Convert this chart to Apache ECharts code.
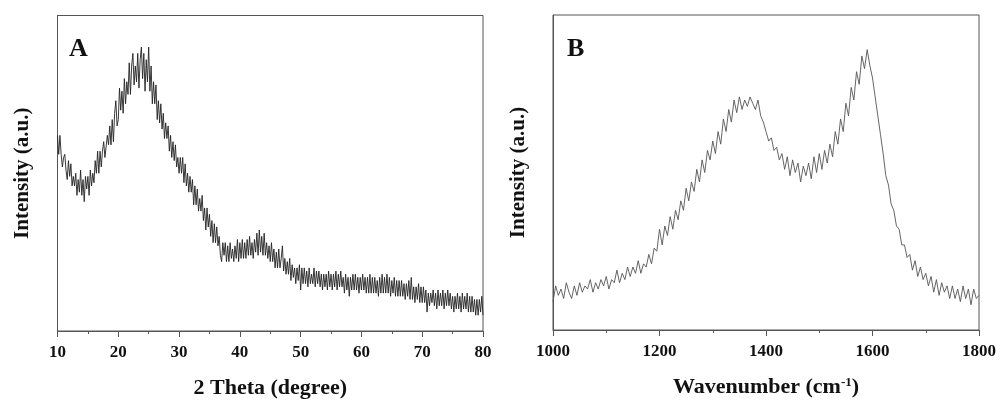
<!DOCTYPE html>
<html><head><meta charset="utf-8">
<script src="https://cdn.jsdelivr.net/npm/echarts@6/dist/echarts.min.js"></script>
<style>html,body{margin:0;padding:0;background:#fff}#c{width:1000px;height:405px}</style>
</head><body><div id="c"></div>
<script>
// Panel A: XRD, 2θ from 10 to 80, step 0.2
const xrdStart = 10, xrdStep = 0.2;
const xrdIntensity = [
62,56,62,56,52, 55,56,51,48,54, 49,53,46,49,46, 50,43,48,44,51, 43,48,41,49,45,
49,43,51,46,50, 47,54,50,57,50, 57,52,57,60,55, 55,62,59,65,59, 67,60,69,73,65,
67,77,70,76,69, 80,72,79,75,85, 75,84,88,78,84, 79,88,77,86,90, 80,88,76,86,79,
90,76,84,72,79, 72,78,67,73,66, 72,64,69,61,66, 61,65,57,62,55, 60,54,59,52,55,
50,55,50,55,47, 53,46,50,44,49, 44,48,40,46,40, 45,38,42,38,43, 35,39,32,39,33,
37,30,35,28,34, 28,33,27,30,24, 22,28,24,28,22, 27,22,28,23,26, 22,27,23,29,22,
28,23,29,23,28, 23,29,24,30,24, 28,23,29,25,31, 24,32,25,30,24, 31,24,28,23,27,
22,28,22,26,20, 25,20,26,20,23, 27,19,23,18,22, 18,23,16,21,17, 20,15,20,16,21,
13,20,15,20,15, 19,14,20,15,18, 15,20,14,19,15, 19,14,18,13,18, 14,18,13,19,14,
18,13,18,14,19, 13,18,14,19,14, 17,12,18,13,17, 11,17,13,18,13, 18,13,17,12,17,
13,18,13,17,12, 17,12,18,12,17, 12,17,12,16,11, 17,12,18,12,17, 12,18,12,17,11,
16,12,17,11,16, 11,16,11,16,11, 15,10,15,11,16, 10,17,10,14,9, 14,10,15,9,14,
9,14,9,13,6, 12,8,12,9,13, 8,12,7,13,8, 12,8,13,7,12, 8,13,8,12,7,
11,6,11,7,12, 7,11,6,12,7, 11,7,12,6,11, 6,11,6,10,5, 10,5,10,6,11,
5
];
// Panel B: Raman, wavenumber from 1000 to 1800, step 5
const ramanStart = 1000, ramanStep = 5;
const ramanIntensity = [
9,14,11,13,10,15,12,10,14,11,
15,12,14,13,16,12,15,13,16,14,
17,13,16,15,19,15,18,16,20,17,
20,18,22,18,21,20,24,21,26,25,
32,27,33,30,36,32,38,35,41,38,
45,41,47,44,51,47,54,50,57,54,
60,56,63,59,67,63,70,66,73,69,
74,70,73,71,74,72,70,73,68,66,
63,60,61,57,58,54,56,51,55,49,
54,50,53,47,52,49,53,48,55,50,
56,51,57,53,59,55,63,59,67,63,
72,68,77,73,82,78,87,83,89,84,
80,74,68,62,56,49,46,40,38,33,
32,27,27,23,24,19,22,17,20,16,
18,14,17,12,16,11,15,12,14,10,
14,10,13,9,14,10,13,8,13,10,
11
];
const xTicksA = [10, 80, 10];
const xTicksB = [1000, 1800, 200];
const yTitle = 'Intensity (a.u.)';
const xTitleA = '2 Theta (degree)';
const xTitleB = 'Wavenumber (cm{sup|-1})';
const panelLabels = ['A', 'B'];

const xrdData = xrdIntensity.map((v, i) => [+(xrdStart + i * xrdStep).toFixed(2), v]);
const ramanData = ramanIntensity.map((v, i) => [ramanStart + i * ramanStep, v]);

const FONT = '"Liberation Serif", "DejaVu Serif", serif';
const frame = '#555';
function xAxis(idx, t, name) {
  return {
    type: 'value', gridIndex: idx, min: t[0], max: t[1], interval: t[2],
    name: name, nameLocation: 'middle', nameGap: 46,
    nameTextStyle: { fontFamily: FONT, fontWeight: 'bold', fontSize: 22, color: '#111',
      rich: { sup: { fontFamily: FONT, fontWeight: 'bold', fontSize: 13, verticalAlign: 'top', padding: [0,0,10,0], color: '#111' } } },
    axisLine: { show: true, lineStyle: { color: frame, width: 1 } },
    axisTick: { show: true, inside: false, length: 6, lineStyle: { color: frame } },
    minorTick: { show: true, splitNumber: 2, length: 3, lineStyle: { color: frame } },
    axisLabel: { fontFamily: FONT, fontWeight: 'bold', fontSize: 17, color: '#111', margin: 13, formatter: v => String(v) },
    splitLine: { show: false }
  };
}
function yAxis(idx) {
  return {
    type: 'value', gridIndex: idx, min: 0, max: 100,
    name: yTitle, nameLocation: 'middle', nameGap: 24, nameRotate: 90,
    nameTextStyle: { fontFamily: FONT, fontWeight: 'bold', fontSize: 21, color: '#111' },
    axisLine: { show: true, lineStyle: { color: frame } },
    axisTick: { show: false }, axisLabel: { show: false }, splitLine: { show: false }
  };
}
const chart = echarts.init(document.getElementById('c'), null, { renderer: 'canvas' });
chart.setOption({
  animation: false,
  backgroundColor: '#fff',
  grid: [
    { left: 57.5, right: 517, top: 15.5, bottom: 74, show: true, borderColor: frame, borderWidth: 1 },
    { left: 553, right: 21, top: 15, bottom: 75, show: true, borderColor: frame, borderWidth: 1 }
  ],
  xAxis: [xAxis(0, xTicksA, xTitleA), xAxis(1, xTicksB, xTitleB)],
  yAxis: [yAxis(0), yAxis(1)],
  graphic: [
    { type: 'text', left: 69, top: 36, style: { text: panelLabels[0], font: 'bold 26px ' + FONT, fill: '#111' } },
    { type: 'text', left: 567, top: 36, style: { text: panelLabels[1], font: 'bold 26px ' + FONT, fill: '#111' } }
  ],
  series: [
    { type: 'line', xAxisIndex: 0, yAxisIndex: 0, data: xrdData, showSymbol: false, lineStyle: { color: '#222', width: 0.9 } },
    { type: 'line', xAxisIndex: 1, yAxisIndex: 1, data: ramanData, showSymbol: false, lineStyle: { color: '#555', width: 0.9 } }
  ]
});
</script></body></html>
